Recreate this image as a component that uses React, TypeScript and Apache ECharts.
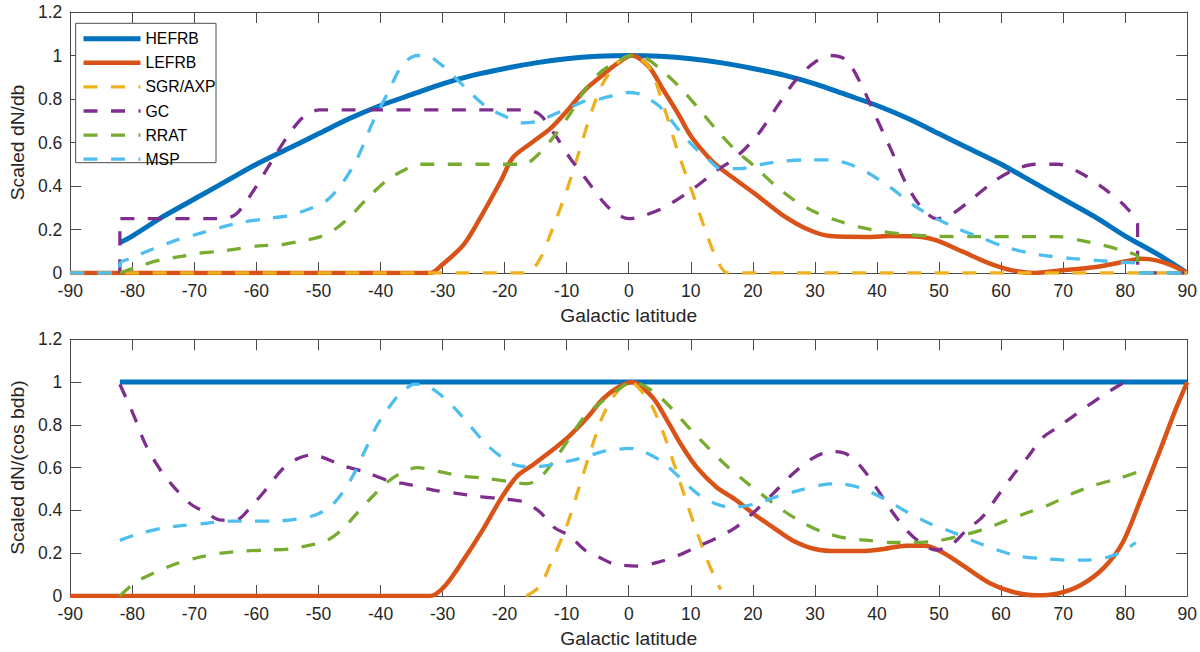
import { useEffect, useRef } from "react";
import * as echarts from "echarts";

type Pt = [number, number];

// galactic latitude ticks
const latTicks = [-90, -80, -70, -60, -50, -40, -30, -20, -10, 0, 10, 20, 30, 40, 50, 60, 70, 80, 90];
const seriesNames = ["HEFRB", "LEFRB", "SGR/AXP", "GC", "RRAT", "MSP"];
const seriesColors = ["#0072BD", "#D95319", "#EDB120", "#7E2F8E", "#77AC30", "#4DBEEE"];

// ---- top panel: scaled dN/db ----
const topHE: Pt[] = [
  [-82, 0.14], [-80, 0.17], [-75, 0.26], [-70, 0.34], [-65, 0.42], [-60, 0.5], [-55, 0.57],
  [-50, 0.64], [-45, 0.71], [-40, 0.77], [-35, 0.82], [-30, 0.87], [-25, 0.91], [-20, 0.94],
  [-15, 0.966], [-10, 0.985], [-5, 0.996], [0, 1], [5, 0.996], [10, 0.985], [15, 0.966],
  [20, 0.94], [25, 0.91], [30, 0.87], [35, 0.82], [40, 0.77], [45, 0.71], [50, 0.64],
  [55, 0.57], [60, 0.5], [65, 0.42], [70, 0.34], [75, 0.26], [80, 0.17], [85, 0.09], [90, 0],
];
const topLE: Pt[] = [
  [-90, 0], [-32, 0], [-30, 0.04], [-26.6, 0.13], [-23.6, 0.27], [-20.5, 0.43], [-18.7, 0.53],
  [-15.6, 0.6], [-12.6, 0.665], [-10.1, 0.74], [-7.1, 0.84], [-4.2, 0.91], [-2, 0.96],
  [0.5, 1.0], [3.2, 0.95], [5.6, 0.84], [8, 0.73], [10, 0.63], [12.9, 0.53], [14.8, 0.48],
  [20.3, 0.365], [24.6, 0.27], [28.9, 0.2], [32.5, 0.17], [38.6, 0.166], [42.3, 0.17],
  [47.2, 0.166], [49.6, 0.15], [53.9, 0.097], [58.2, 0.043], [61.8, 0.012], [65.5, 0],
  [69.2, 0.01], [75.3, 0.028], [80.2, 0.054], [82.6, 0.065], [85, 0.058], [87.5, 0.035], [90, 0],
];
const topSGR: Pt[] = [
  [-90, 0], [-16.5, 0], [-14.4, 0.06], [-12.6, 0.18], [-10.1, 0.37], [-8.3, 0.53], [-5.9, 0.75],
  [-4.2, 0.87], [-2, 0.96], [0.3, 1], [3.2, 0.95], [5.6, 0.77], [8, 0.55], [10.5, 0.35],
  [12.3, 0.2], [14.1, 0.07], [16, 0], [90, 0],
];
const topGC: Pt[] = [
  [-82, 0], [-82, 0.25], [-65.7, 0.25], [-63.3, 0.27], [-60.2, 0.39], [-57.2, 0.53], [-54.7, 0.64],
  [-52.3, 0.72], [-49.8, 0.75], [-17, 0.75], [-14.4, 0.73], [-12, 0.64], [-9.5, 0.53],
  [-7.1, 0.44], [-4.2, 0.33], [-2.4, 0.28], [0, 0.25], [2, 0.26], [5.6, 0.3], [10.5, 0.39],
  [14.1, 0.47], [17.2, 0.53], [20.9, 0.64], [23.9, 0.765], [27, 0.89], [30, 0.97], [32.5, 1.0],
  [35, 0.98], [37.4, 0.87], [39.8, 0.72], [42.3, 0.565], [44.7, 0.41], [47.2, 0.3], [49.6, 0.25],
  [52, 0.27], [55.1, 0.335], [58.8, 0.42], [61.8, 0.47], [65.5, 0.5], [69.2, 0.5], [72.8, 0.46],
  [76.5, 0.39], [80.2, 0.3], [82, 0.22], [82, 0], [90, 0],
];
const topRRAT: Pt[] = [
  [-82, 0], [-78.5, 0.035], [-75.5, 0.06], [-72.4, 0.075], [-69.4, 0.09], [-65.7, 0.1],
  [-63.3, 0.11], [-59.6, 0.125], [-56, 0.13], [-52.3, 0.15], [-49.8, 0.166], [-47.4, 0.2],
  [-44.9, 0.26], [-41.9, 0.35], [-38.8, 0.43], [-36.4, 0.47], [-34, 0.5], [-17, 0.5],
  [-14.4, 0.55], [-12, 0.63], [-9.5, 0.73], [-7.1, 0.84], [-4.7, 0.92], [-2, 0.97], [0.5, 1.0],
  [2.6, 0.99], [5, 0.94], [8, 0.86], [11, 0.765], [14.1, 0.66], [17.2, 0.565], [20.3, 0.49],
  [23.3, 0.41], [26.4, 0.34], [30, 0.28], [33.7, 0.24], [37.4, 0.21], [41.1, 0.19],
  [44.7, 0.177], [48.4, 0.17], [55, 0.167], [62, 0.167], [69.2, 0.167], [72.8, 0.15],
  [76.5, 0.127], [80.2, 0.097], [82, 0.074], [82, 0], [90, 0],
];
const topMSP: Pt[] = [
  [-90, 0], [-82, 0], [-82, 0.043], [-80.4, 0.066], [-76.7, 0.11], [-73, 0.15], [-69.4, 0.18],
  [-65.7, 0.21], [-62, 0.235], [-58.4, 0.25], [-54.7, 0.265], [-51, 0.3], [-48.6, 0.335],
  [-46.2, 0.41], [-43.7, 0.53], [-41.3, 0.69], [-38.8, 0.83], [-36.4, 0.96], [-34, 1.0],
  [-32.7, 1.0], [-30.3, 0.96], [-26.6, 0.86], [-23, 0.765], [-19.9, 0.72], [-16.9, 0.69],
  [-14.4, 0.7], [-12, 0.73], [-9.5, 0.76], [-7.1, 0.79], [-4.7, 0.8], [-2, 0.82], [0, 0.83],
  [2, 0.82], [5, 0.765], [8, 0.66], [10.5, 0.58], [12.9, 0.52], [14.8, 0.48], [17.8, 0.48],
  [21.5, 0.5], [25.2, 0.515], [28.9, 0.52], [32.5, 0.52], [35.6, 0.5], [38.6, 0.46],
  [42.3, 0.39], [46, 0.31], [49.6, 0.25], [53.3, 0.2], [57, 0.16], [60.6, 0.12], [64.3, 0.094],
  [68, 0.077], [71.6, 0.066], [75.3, 0.058], [79, 0.05], [82, 0.043], [82, 0], [90, 0],
];

// ---- bottom panel: scaled dN/(cos b db) ----
const botHE: Pt[] = [[-82, 1], [90, 1]];
const botLE: Pt[] = [
  [-90, 0], [-32, 0], [-29.7, 0.044], [-26.6, 0.17], [-23.5, 0.31], [-20.5, 0.46], [-18, 0.56],
  [-15.6, 0.61], [-12.6, 0.675], [-9.5, 0.75], [-6.5, 0.84], [-4.2, 0.92], [-2, 0.97], [0.5, 1.0],
  [3.8, 0.93], [6.2, 0.82], [8.6, 0.7], [11, 0.6], [14.1, 0.51], [17.2, 0.45], [20.3, 0.38],
  [23.3, 0.32], [26.4, 0.26], [30, 0.22], [33.7, 0.21], [37.4, 0.21], [41.1, 0.22],
  [44.7, 0.235], [47.8, 0.235], [50.8, 0.2], [54.5, 0.13], [58.2, 0.06], [61.8, 0.02],
  [65.5, 0.003], [69.2, 0.012], [72.8, 0.05], [76.5, 0.13], [79.6, 0.25], [82.6, 0.46],
  [85.6, 0.68], [88.1, 0.87], [90, 1.0],
];
const botSGR: Pt[] = [
  [-16.5, 0], [-14.4, 0.044], [-12.6, 0.15], [-10.1, 0.32], [-8.3, 0.48], [-5.9, 0.7],
  [-4.2, 0.84], [-2, 0.95], [0.3, 1.0], [2, 0.96], [3.8, 0.885], [5.6, 0.76], [7.5, 0.6],
  [9.3, 0.44], [11.1, 0.29], [12.9, 0.15], [14.8, 0.03],
];
const botGC: Pt[] = [
  [-82, 0.99], [-79.7, 0.84], [-77.9, 0.71], [-75.5, 0.59], [-73, 0.5], [-70.6, 0.43],
  [-68.1, 0.39], [-65.7, 0.355], [-63.3, 0.355], [-60.8, 0.42], [-58.4, 0.5], [-55.9, 0.59],
  [-53.5, 0.64], [-51, 0.66], [-48.6, 0.64], [-46.2, 0.61], [-42.5, 0.58], [-38.8, 0.54],
  [-35.2, 0.52], [-31.5, 0.495], [-27.8, 0.48], [-24.2, 0.465], [-20.5, 0.455], [-16.9, 0.44],
  [-14.4, 0.395], [-12, 0.32], [-9.5, 0.28], [-7.1, 0.215], [-4.7, 0.18], [-2.4, 0.15],
  [1.3, 0.14], [5, 0.16], [8, 0.19], [11, 0.23], [14.1, 0.27], [17.2, 0.32], [20.3, 0.395],
  [23.3, 0.48], [26.4, 0.57], [29.4, 0.64], [32.5, 0.675], [35, 0.665], [37.4, 0.605],
  [39.8, 0.51], [42.3, 0.4], [44.7, 0.31], [47.2, 0.245], [49.6, 0.215], [52, 0.24],
  [54.5, 0.31], [57, 0.37], [59.4, 0.465], [61.8, 0.56], [64.3, 0.65], [66.7, 0.74],
  [69.2, 0.79], [71.6, 0.84], [74, 0.89], [76.5, 0.94], [79.6, 0.995],
];
const botRRAT: Pt[] = [
  [-82, 0], [-79.7, 0.06], [-76.7, 0.105], [-73, 0.15], [-69.4, 0.18], [-65.7, 0.2], [-62, 0.21],
  [-58.4, 0.215], [-54.7, 0.22], [-51, 0.24], [-48.6, 0.26], [-46.2, 0.31], [-43.7, 0.39],
  [-41.3, 0.465], [-38.8, 0.535], [-36.4, 0.58], [-34, 0.6], [-30.3, 0.58], [-26.6, 0.56],
  [-23, 0.55], [-19.3, 0.535], [-16.3, 0.525], [-14.4, 0.55], [-12, 0.635], [-9.5, 0.74],
  [-7.1, 0.84], [-4.7, 0.9], [-2, 0.96], [0.5, 1.0], [3.8, 0.96], [6.8, 0.88], [9.9, 0.78],
  [12.9, 0.69], [15.9, 0.605], [19, 0.53], [22.1, 0.46], [25.1, 0.395], [28.2, 0.34],
  [31.2, 0.3], [35, 0.27], [38.6, 0.26], [42.3, 0.25], [45.9, 0.25], [49.6, 0.257],
  [53.3, 0.28], [57, 0.31], [60.6, 0.35], [64.3, 0.39], [68, 0.43], [71.6, 0.48],
  [75.3, 0.52], [79, 0.55], [82, 0.58],
];
const botMSP: Pt[] = [
  [-82, 0.26], [-79.1, 0.29], [-75.5, 0.315], [-71.8, 0.33], [-68.1, 0.34], [-64.5, 0.35],
  [-60.8, 0.35], [-57.1, 0.35], [-53.5, 0.36], [-50.4, 0.38], [-48, 0.42], [-46.2, 0.48],
  [-44.3, 0.57], [-42.5, 0.68], [-40.7, 0.79], [-38.8, 0.875], [-37, 0.94], [-34.5, 0.99],
  [-32.7, 0.985], [-30.3, 0.94], [-27.8, 0.87], [-25.4, 0.79], [-23, 0.71], [-20.5, 0.65],
  [-18, 0.61], [-15.6, 0.605], [-13.2, 0.61], [-10.7, 0.625], [-8.3, 0.64], [-5.9, 0.66],
  [-4.2, 0.675], [-2, 0.685], [0, 0.69], [2, 0.68], [5, 0.635], [8, 0.56], [11, 0.48],
  [14.1, 0.43], [16.6, 0.415], [20.3, 0.43], [23.9, 0.465], [27.6, 0.495], [31.2, 0.52],
  [33.7, 0.525], [37.4, 0.505], [41.1, 0.455], [44.7, 0.395], [48.4, 0.34], [52, 0.3],
  [55.7, 0.255], [59.4, 0.215], [63, 0.185], [66.7, 0.175], [70.4, 0.168], [74, 0.168],
  [77, 0.18], [79.6, 0.21], [81.7, 0.25],
];

const topData = [topHE, topLE, topSGR, topGC, topRRAT, topMSP];
const botData = [botHE, botLE, botSGR, botGC, botRRAT, botMSP];

const FONT = "'Liberation Sans', Arial, Helvetica, sans-serif";
const INK = "#262626";
const FRAME = "#4a4a4a";
const DASH = [14, 13.5];

function lineWidthOf(i: number) {
  if (i === 0) return 5;
  if (i === 1) return 4.5;
  return 3.3;
}

function frameAxisX(gridIndex: number, position: "top" | "bottom", withLabels: boolean, name?: string) {
  return {
    type: "value",
    gridIndex,
    position,
    min: latTicks[0],
    max: latTicks[latTicks.length - 1],
    interval: 10,
    axisLine: { show: true, onZero: false, lineStyle: { color: FRAME, width: 1 } },
    axisTick: { show: true, inside: true, length: 11, lineStyle: { color: FRAME, width: 1 } },
    axisLabel: { show: withLabels, color: INK, fontSize: 17.5, fontFamily: FONT, margin: 9 },
    splitLine: { show: false },
    name: name ?? "",
    nameLocation: "middle",
    nameGap: 33,
    nameTextStyle: { color: INK, fontSize: 19.25, fontFamily: FONT },
  };
}

function frameAxisY(gridIndex: number, position: "left" | "right", withLabels: boolean, name?: string) {
  return {
    type: "value",
    gridIndex,
    position,
    min: 0,
    max: 1.2,
    interval: 0.2,
    axisLine: { show: true, onZero: false, lineStyle: { color: FRAME, width: 1 } },
    axisTick: { show: true, inside: true, length: 11, lineStyle: { color: FRAME, width: 1 } },
    axisLabel: { show: withLabels, color: INK, fontSize: 17.5, fontFamily: FONT, margin: 8 },
    splitLine: { show: false },
    name: name ?? "",
    nameLocation: "middle",
    nameGap: 36,
    nameTextStyle: { color: INK, fontSize: 19.25, fontFamily: FONT },
  };
}

function makeSeries(data: Pt[][], axisIndex: number) {
  return data.map((pts, i) => ({
    name: seriesNames[i],
    type: "line",
    xAxisIndex: axisIndex,
    yAxisIndex: axisIndex,
    data: pts,
    smooth: 0.3,
    symbol: "none",
    z: 2 + i,
    lineStyle: {
      color: seriesColors[i],
      width: lineWidthOf(i),
      type: i < 2 ? "solid" : DASH,
      cap: "butt",
    },
    // keep the legend's marker invisible, only the line sample shows
    itemStyle: { color: "rgba(0,0,0,0)", borderWidth: 0 },
  }));
}

export default function App() {
  const chartRef = useRef<HTMLDivElement>(null);

  useEffect(() => {
    if (!chartRef.current) return;
    const chart = echarts.init(chartRef.current, undefined, { renderer: "svg" });
    chart.setOption({
      animation: false,
      backgroundColor: "#ffffff",
      textStyle: { fontFamily: FONT },
      grid: [
        { left: 61, right: 10, top: 12, height: 261 },
        { left: 61, right: 10, top: 339.3, height: 256.7 },
      ],
      xAxis: [
        frameAxisX(0, "bottom", true, "Galactic latitude"),
        frameAxisX(0, "top", false),
        frameAxisX(1, "bottom", true, "Galactic latitude"),
        frameAxisX(1, "top", false),
      ],
      yAxis: [
        frameAxisY(0, "left", true, "Scaled dN/db"),
        frameAxisY(0, "right", false),
        frameAxisY(1, "left", true, "Scaled dN/(cos bdb)"),
        frameAxisY(1, "right", false),
      ],
      legend: {
        data: seriesNames.map((name, i) => ({
          name,
          lineStyle: {
            width: lineWidthOf(i),
            type: i < 2 ? "solid" : DASH,
            color: seriesColors[i],
            cap: "butt",
          },
        })),
        orient: "vertical",
        left: 81,
        top: 30.7,
        padding: 0,
        itemWidth: 57,
        itemHeight: 14,
        itemGap: 8.1,
        z: 10,
        itemStyle: { color: "rgba(0,0,0,0)", borderWidth: 0 },
        textStyle: { color: "#000", fontSize: 15.75, fontFamily: FONT },
      },
      graphic: [
        {
          type: "rect",
          z: 9,
          shape: { x: 75.7, y: 23.3, width: 140.3, height: 139.4 },
          style: { fill: "#ffffff", stroke: FRAME, lineWidth: 1 },
        },
      ],
      series: [...makeSeries(topData, 0), ...makeSeries(botData, 2)],
    });
    return () => chart.dispose();
  }, []);

  return (
    <div
      ref={chartRef}
      style={{ position: "fixed", left: 0, top: 0, width: 1200, height: 652, background: "#fff" }}
    />
  );
}
